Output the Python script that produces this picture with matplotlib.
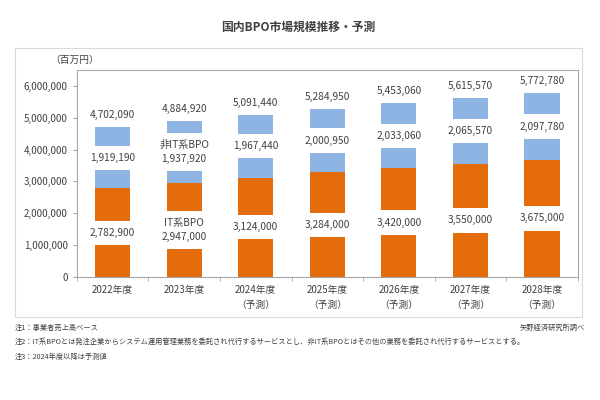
import numpy as np
import matplotlib
matplotlib.use('Agg')
import matplotlib.pyplot as plt
from matplotlib.patches import Rectangle

plt.rcParams['font.family'] = ['Noto Sans CJK JP', 'DejaVu Sans']

years = ['2022年度', '2023年度', '2024年度', '2025年度', '2026年度', '2027年度', '2028年度']
forecast = [False, False, True, True, True, True, True]
it_bpo = [2782900, 2947000, 3124000, 3284000, 3420000, 3550000, 3675000]
non_it_bpo = [1919190, 1937920, 1967440, 2000950, 2033060, 2065570, 2097780]
totals = [4702090, 4884920, 5091440, 5284950, 5453060, 5615570, 5772780]

orange = '#E46C0A'
blue = '#8DB4E2'
txt = '#404040'

fig = plt.figure(figsize=(6, 4), dpi=100)
ax = fig.add_axes([0.128, 0.3075, 0.835, 0.5175])

x = np.arange(len(years))
w = 0.49
ax.bar(x, it_bpo, w, color=orange, zorder=1)
ax.bar(x, non_it_bpo, w, bottom=it_bpo, color=blue, zorder=1)

box = dict(boxstyle='square,pad=0.7', fc='white', ec='none')
for i in range(len(years)):
    it_lab = '{:,}'.format(it_bpo[i])
    non_lab = '{:,}'.format(non_it_bpo[i])
    if i == 1:
        it_lab = 'IT系BPO\n' + it_lab
        non_lab = '非IT系BPO\n' + non_lab
    ax.text(x[i], it_bpo[i] / 2, it_lab, ha='center', va='center', fontsize=7.3,
            color=txt, bbox=box, zorder=3, linespacing=1.5)
    ax.text(x[i], it_bpo[i] + non_it_bpo[i] / 2, non_lab, ha='center', va='center',
            fontsize=7.3, color=txt, bbox=box, zorder=3, linespacing=1.5)
    ax.annotate('{:,}'.format(totals[i]), (x[i], totals[i]), xytext=(0, 5),
                textcoords='offset points', ha='center', va='bottom', fontsize=7.3, color=txt)

ax.set_xlim(-0.5, len(years) - 0.5)
ax.set_ylim(0, 6500000)
ax.set_yticks(np.arange(0, 6000001, 1000000))
ax.set_yticklabels(['{:,}'.format(v) for v in range(0, 6000001, 1000000)], fontsize=7, color=txt)
ax.set_xticks(x)
ax.set_xticklabels([y + ('\n（予測）' if f else '') for y, f in zip(years, forecast)],
                   fontsize=7, color=txt, linespacing=1.6, va='top')
ax.tick_params(axis='x', length=0, pad=6)
ax.set_xticks(np.arange(-0.5, len(years), 1), minor=True)
ax.tick_params(axis='x', which='minor', length=3, color='#a6a6a6')
ax.tick_params(axis='y', length=3, color='#a6a6a6')
for s in ax.spines.values():
    s.set_color('#a6a6a6')
    s.set_linewidth(0.8)

fig.patches.append(Rectangle((0.025, 0.2075), 0.945, 0.6725, transform=fig.transFigure,
                             fill=False, ec='#d9d9d9', lw=0.8))

fig.text(0.497, 0.932, '国内BPO市場規模推移・予測', ha='center', va='center',
         fontsize=8.5, fontweight='bold', color=txt)
fig.text(0.125, 0.85, '（百万円）', ha='center', va='center', fontsize=7, color=txt)

fs = 5.2
fig.text(0.025, 0.18, '注1：事業者売上高ベース', fontsize=fs, va='center', color=txt)
fig.text(0.975, 0.18, '矢野経済研究所調べ', fontsize=fs, va='center', ha='right', color=txt)
fig.text(0.025, 0.145, '注2：IT系BPOとは発注企業からシステム運用管理業務を委託され代行するサービスとし、非IT系BPOとはその他の業務を委託され代行するサービスとする。',
         fontsize=fs, va='center', color=txt)
fig.text(0.025, 0.1075, '注3：2024年度以降は予測値', fontsize=fs, va='center', color=txt)

fig.savefig('out.png', dpi=100, facecolor='white')
